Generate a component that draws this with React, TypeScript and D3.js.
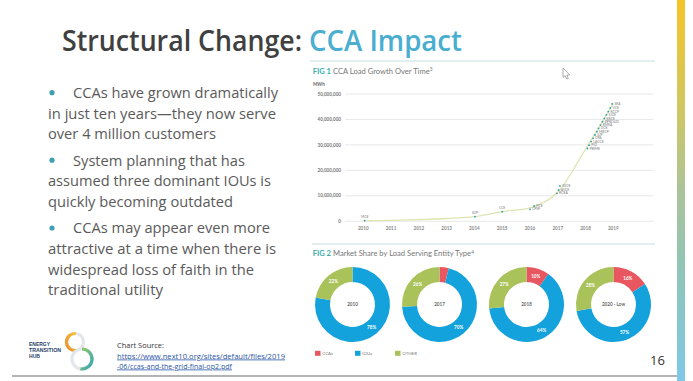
import React from "react";
import * as d3 from "d3";

// ---------- data ----------
const yearTicks = [2010, 2011, 2012, 2013, 2014, 2015, 2016, 2017, 2018, 2019];
const loadTicks = [0, 10000000, 20000000, 30000000, 40000000, 50000000];

const trendYears = [2010, 2011, 2012, 2013, 2014, 2015, 2016, 2017, 2018, 2019];
const trendLoad = [200000, 350000, 700000, 1100000, 1800000, 3800000, 5300000, 11500000, 28300000, 46300000];

const ccaNames = ["MCE", "SCP", "LCE", "CPSF", "PCE", "RCEA", "AVCE", "SVCE",
  "PRIME", "PIO", "LACCE", "CPA", "SJP", "MBCP", "DCE", "RMEA", "BPROUD", "EBCE", "SJCE", "KCCP", "VCE", "SEA"];
const ccaYears = [2010.05, 2014.02, 2015.0, 2016.0, 2016.15, 2016.97, 2017.03, 2017.08,
  2018.07, 2018.13, 2018.2, 2018.27, 2018.34, 2018.41, 2018.47, 2018.54, 2018.61, 2018.68, 2018.75, 2018.82, 2018.89, 2018.96];
const ccaLoad = [300000, 1800000, 3800000, 4700000, 6000000, 11000000, 12300000, 13900000,
  28600000, 29900000, 31300000, 32600000, 33900000, 35200000, 36500000, 37800000, 39100000, 40400000, 41800000, 43100000, 44500000, 46100000];

const donutTitles = ["2010", "2017", "2018", "2020 - Low"];
const shareCCA = [0, 4, 10, 16];
const shareIOU = [78, 70, 64, 57];
const shareOther = [22, 26, 27, 28];
const legendLabels = ["CCAs", "IOUs", "OTHER"];

const bullets = [
  ["CCAs have grown dramatically", "in just ten years\u2014they now serve", "over 4 million customers"],
  ["System planning that has", "assumed three dominant IOUs is", "quickly becoming outdated"],
  ["CCAs may appear even more", "attractive at a time when there is", "widespread loss of faith in the", "traditional utility"],
];
const logoLines = ["ENERGY", "TRANSITION", "HUB"];

// ---------- component ----------
export default function App() {
  const W = 693, H = 381;
  const x = d3.scaleLinear().domain([2010, 2019]).range([363.3, 613.3]);
  const y = d3.scaleLinear().domain([0, 50000000]).range([221.3, 94]);
  const line = d3.line<number>().x((d, i) => x(trendYears[i])).y((d) => y(d)).curve(d3.curveMonotoneX);
  const fmt = d3.format(",");

  const sliceColors = ["#e8565f", "#14a2dc", "#a9c25a"];
  const donutX = d3.scalePoint<string>().domain(donutTitles).range([352.5, 613.5]);
  const donutY = 304.5;
  const pie = d3.pie<number>().sort(null).value((d) => d);
  const arc = d3.arc<d3.PieArcDatum<number>>().innerRadius(22.5).outerRadius(37.5);

  // layout for bullet text lines (x start, width)
  const bulletLayout = [
    [[73, 205], [48, 228], [48, 168]],
    [[73, 172], [48, 223], [48, 185]],
    [[73, 197], [48, 228], [48, 206], [48, 115]],
  ];
  const bulletTop = [98, 165.5, 233.3];
  const lh = 20.6;
  const logoWidths = [21, 32, 11];

  const legendX = [315, 355, 395];

  return (
    <svg width={W} height={H} style={{ position: "absolute", left: 0, top: 0, background: "#fff" }}>
      <defs>
        <linearGradient id="sidebar" x1="0" y1="0" x2="0" y2="1">
          <stop offset="0" stopColor="#f6c427" />
          <stop offset="0.3" stopColor="#cdc765" />
          <stop offset="0.5" stopColor="#acc39a" />
          <stop offset="0.7" stopColor="#90c5b6" />
          <stop offset="1" stopColor="#7fc8e8" />
        </linearGradient>
        <linearGradient id="logoOrange" x1="0" y1="1" x2="1" y2="0">
          <stop offset="0" stopColor="#e98a2a" />
          <stop offset="1" stopColor="#f3c83b" />
        </linearGradient>
        <linearGradient id="logoTeal" x1="0" y1="0" x2="1" y2="1">
          <stop offset="0" stopColor="#9ccb5a" />
          <stop offset="1" stopColor="#2aa3c4" />
        </linearGradient>
      </defs>

      <rect x={0} y={0} width={W} height={H} fill="#fff" />
      {/* side gradient bar */}
      <rect x={677} y={0} width={8} height={H} fill="url(#sidebar)" />
      {/* bottom rule */}
      <line x1={12} x2={677} y1={376} y2={376} stroke="#9a9a9a" strokeWidth={1.5} />

      {/* title */}
      <text x={62} y={51} fontFamily="'Open Sans', sans-serif" fontWeight={600} fontSize={29} fill="#404040"
        textLength={240} lengthAdjust="spacingAndGlyphs">Structural Change:</text>
      <text x={309} y={51} fontFamily="'Open Sans', sans-serif" fontWeight={600} fontSize={29} fill="#4aaed0"
        textLength={153} lengthAdjust="spacingAndGlyphs">CCA Impact</text>

      {/* bullets */}
      {bullets.map((lines, bi) => (
        <g key={bi}>
          <circle cx={52} cy={bulletTop[bi] - 5.3} r={2.6} fill="#3f9fb3" />
          {lines.map((t, li) => (
            <text key={li} x={bulletLayout[bi][li][0]} y={bulletTop[bi] + li * lh}
              fontFamily="'Open Sans', sans-serif" fontSize={15} fill="#5a5a5a"
              textLength={bulletLayout[bi][li][1]} lengthAdjust="spacingAndGlyphs">{t}</text>
          ))}
        </g>
      ))}

      {/* logo */}
      <g>
        <circle cx={75} cy={342} r={8.5} fill="none" stroke="#e3e6ea" strokeWidth={3.2} />
        <path d={d3.arc()({ innerRadius: 6.9, outerRadius: 10.1, startAngle: -Math.PI * 1.05, endAngle: 0.1 }) || ""}
          transform="translate(75,342)" fill="url(#logoOrange)" />
        <circle cx={82} cy={359} r={10} fill="none" stroke="#e3e6ea" strokeWidth={3.2} />
        <path d={d3.arc()({ innerRadius: 8.4, outerRadius: 11.6, startAngle: 0, endAngle: Math.PI * 1.05 }) || ""}
          transform="translate(82,359)" fill="url(#logoTeal)" />
        {logoLines.map((t, i) => (
          <text key={t} x={29} y={345.5 + i * 6} fontFamily="'Liberation Sans', Arial, sans-serif" fontWeight={700} fontSize={5.1}
            fill="#1e3d6b" textLength={logoWidths[i]} lengthAdjust="spacingAndGlyphs">{t}</text>
        ))}
      </g>

      {/* source */}
      <text x={117} y={348} fontFamily="'Open Sans', sans-serif" fontSize={8} fill="#333" textLength={47} lengthAdjust="spacingAndGlyphs">Chart Source:</text>
      <text x={117} y={358.5} fontFamily="'Open Sans', sans-serif" fontSize={8} fill="#2a56a6" textDecoration="underline"
        textLength={168} lengthAdjust="spacingAndGlyphs">https://www.next10.org/sites/default/files/2019</text>
      <text x={117} y={368.5} fontFamily="'Open Sans', sans-serif" fontSize={8} fill="#2a56a6" textDecoration="underline"
        textLength={115} lengthAdjust="spacingAndGlyphs">-06/ccas-and-the-grid-final-op2.pdf</text>

      {/* page number */}
      <text x={650} y={365} fontFamily="'Open Sans', sans-serif" fontSize={13} fill="#333">16</text>

      {/* FIG 1 */}
      <line x1={310} x2={655} y1={61} y2={61} stroke="#c6dfe0" strokeWidth={1.2} />
      <text x={312.7} y={73.5} fontFamily="Lato, sans-serif" fontSize={7.6} fill="#777">
        <tspan fill="#3aaeae" fontWeight={700}>FIG 1</tspan>
        <tspan> CCA Load Growth Over Time</tspan>
        <tspan fontSize={4.8} dy={-2.7}>3</tspan>
      </text>
      <text x={313} y={86} fontFamily="Lato, sans-serif" fontSize={4.6} fontWeight={700} fill="#666">MWh</text>
      {loadTicks.map((v) => (
        <g key={v}>
          <line x1={345} x2={653} y1={y(v)} y2={y(v)} stroke="#e2e2e2" strokeWidth={0.8} />
          <text x={341} y={y(v) + 1.6} textAnchor="end" fontFamily="Lato, sans-serif" fontSize={4.6} fontWeight={700} fill="#777">{fmt(v)}</text>
        </g>
      ))}
      {yearTicks.map((yr) => (
        <text key={yr} x={x(yr)} y={229.8} textAnchor="middle" fontFamily="Lato, sans-serif" fontSize={4.6} fontWeight={700} fill="#888">{yr}</text>
      ))}
      <path d={line(trendLoad) || ""} fill="none" stroke="#dde5b0" strokeWidth={1.3} />
      {ccaNames.map((n, i) => {
        const px = x(ccaYears[i]);
        const py = y(ccaLoad[i]);
        const above = i < 3;
        return (
          <g key={n}>
            <circle cx={px} cy={py} r={0.9} fill="#2a9fb4" />
            <text x={above ? px : px + 2.2} y={above ? py - 2.3 : py + 1.1} textAnchor={above ? "middle" : "start"}
              fontFamily="Lato, sans-serif" fontSize={3.4} fill="#777">{n}</text>
          </g>
        );
      })}

      {/* cursor */}
      <path d="M563,68 L563,77.5 L565.2,75.6 L566.8,79 L568.3,78.3 L566.8,75 L569.8,75 Z" fill="#fff" stroke="#777" strokeWidth={0.6} />

      {/* FIG 2 */}
      <line x1={312} x2={655} y1={244} y2={244} stroke="#c6dfe0" strokeWidth={1.2} />
      <text x={312.7} y={256.2} fontFamily="Lato, sans-serif" fontSize={7.6} fill="#777">
        <tspan fill="#3aaeae" fontWeight={700}>FIG 2</tspan>
        <tspan> Market Share by Load Serving Entity Type</tspan>
        <tspan fontSize={4.8} dy={-2.7}>4</tspan>
      </text>
      {donutTitles.map((t, di) => {
        const vals = [shareCCA[di], shareIOU[di], shareOther[di]];
        const arcs = pie(vals);
        const cx = donutX(t) || 0;
        return (
          <g key={t} transform={`translate(${cx},${donutY})`}>
            {arcs.map((a, ai) => (
              <path key={ai} d={arc(a) || ""} fill={sliceColors[ai]} />
            ))}
            {arcs.map((a, ai) => {
              if (a.data < 5) return null;
              const [lx, ly] = arc.centroid(a);
              return (
                <text key={"l" + ai} x={lx} y={ly + 1.6} textAnchor="middle" fontFamily="Lato, sans-serif" fontSize={4.6}
                  fontWeight={700} fill="#fff">{a.data + "%"}</text>
              );
            })}
            <text x={0} y={1.6} textAnchor="middle" fontFamily="Lato, sans-serif" fontSize={4.6} fontWeight={700} fill="#666">{t}</text>
          </g>
        );
      })}
      {legendLabels.map((l, i) => (
        <g key={l}>
          <rect x={legendX[i]} y={350.8} width={5.5} height={5} fill={sliceColors[i]} />
          <text x={legendX[i] + 7.3} y={355.2} fontFamily="Lato, sans-serif" fontSize={4.4} fill="#777">{l}</text>
        </g>
      ))}
    </svg>
  );
}
